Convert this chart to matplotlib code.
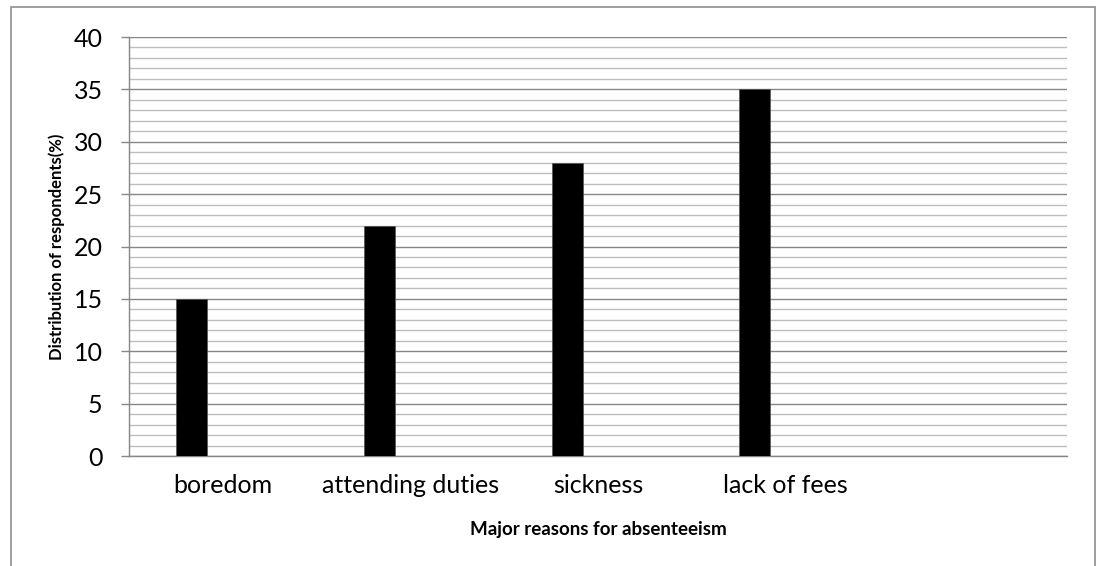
import matplotlib
matplotlib.use('Agg')
import matplotlib.pyplot as plt
import matplotlib.patches as patches
import numpy as np

plt.rcParams['font.family'] = ['Lato', 'DejaVu Sans']

# reasons for absenteeism, share of respondents in %
reasons = ['boredom', 'attending duties', 'sickness', 'lack of fees', '']
share = [15, 22, 28, 35]
yticks = [0, 5, 10, 15, 20, 25, 30, 35, 40]

fig = plt.figure(figsize=(10.96, 5.66), dpi=100)
ax = fig.add_axes([0.1177, 0.1943, 0.9735 - 0.1177, 0.9346 - 0.1943])

# outer chart frame
frame = patches.Rectangle((11 / 1096, -0.05), (1095 - 11) / 1096, 1 - 7 / 566 + 0.05,
                          transform=fig.transFigure, fill=False, edgecolor='#8c8c8c',
                          linewidth=1.2, clip_on=False)
fig.add_artist(frame)

x = np.arange(len(reasons))
w = 0.165
ax.bar(x[:len(share)] - w, share, width=w, align='center', color='black',
       edgecolor='#555555', linewidth=0.5, zorder=3)

ax.set_xlim(-0.5, len(reasons) - 0.5)
ax.set_ylim(0, 40)
ax.set_xticks(x)
ax.set_xticklabels(reasons, fontsize=18)
ax.set_yticks(yticks)
ax.set_yticklabels([str(v) for v in yticks], fontsize=18)
ax.set_yticks(np.arange(0, 41, 1), minor=True)

ax.grid(axis='y', which='minor', color='#bdbdbd', linewidth=1.0, zorder=0)
ax.grid(axis='y', which='major', color='#868686', linewidth=1.0, zorder=1)
ax.set_axisbelow(True)

for s in ['top', 'right']:
    ax.spines[s].set_visible(False)
ax.spines['left'].set_color('#868686')
ax.spines['bottom'].set_color('#868686')
ax.spines['left'].set_linewidth(1.0)
ax.spines['bottom'].set_linewidth(1.0)

ax.tick_params(axis='y', which='major', length=6, width=1, color='#868686', pad=13)
ax.tick_params(axis='y', which='minor', length=0)
ax.tick_params(axis='x', length=0, pad=13)

ax.set_xlabel('Major reasons for absenteeism', fontsize=13.5, fontweight='bold')
ax.set_ylabel('Distribution of respondents(%)', fontsize=12, fontweight='bold')
ax.xaxis.set_label_coords(0.5, -0.155)
ax.yaxis.set_label_coords(-0.068, 0.5)

fig.savefig('out.png', dpi=100)
